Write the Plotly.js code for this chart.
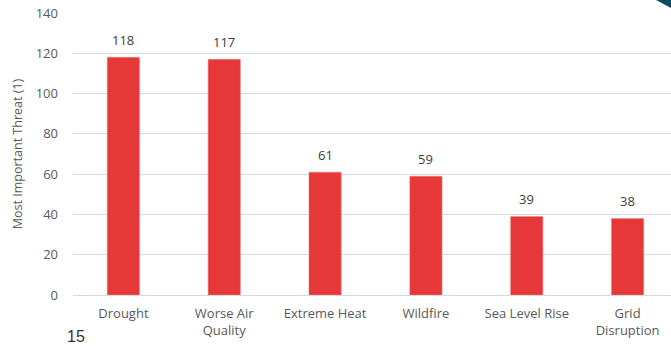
<!DOCTYPE html>
<html>
<head>
<meta charset="utf-8">
<script src="https://cdn.plot.ly/plotly-3.0.1.min.js"></script>
<style>
html,body{margin:0;padding:0;overflow:hidden;background:#fff;width:671px;height:346px;}
#chart{width:678px;height:346px;}
</style>
</head>
<body>
<div id="chart"></div>
<script>
const categories = ["Drought", "Worse Air<br>Quality", "Extreme Heat", "Wildfire", "Sea Level Rise", "Grid<br>Disruption"];
const values = [118, 117, 61, 59, 39, 38];
const yTicks = [0, 20, 40, 60, 80, 100, 120, 140];
const yTitle = "Most Important Threat (1)";
const slideNumber = "15";

const W = 678, H = 346, L = 73, R = 0, T = 13, B = 51;
const pw = W - L - R, ph = H - T - B;
const px = x => (x - L) / pw;
const py = y => (H - B - y) / ph;

const trace = {
  type: "bar",
  x: categories,
  y: values,
  marker: {color: "#e63838", line: {color: "#f08080", width: 0.5}},
  cliponaxis: false,
  hoverinfo: "skip"
};

const valueLabels = categories.map((c, i) => ({
  x: c, y: values[i], xref: "x", yref: "y",
  text: String(values[i]), showarrow: false,
  xanchor: "center", yanchor: "bottom", yshift: 6,
  font: {family: "Open Sans, sans-serif", size: 13, color: "#404040"}
}));

const layout = {
  width: W, height: H,
  margin: {l: L, r: R, t: T, b: B, pad: 0},
  paper_bgcolor: "#ffffff",
  plot_bgcolor: "#ffffff",
  bargap: 0.68,
  showlegend: false,
  font: {family: "Open Sans, sans-serif", color: "#595959", size: 13},
  xaxis: {
    tickfont: {size: 13, color: "#595959"},
    showgrid: false,
    showline: false,
    zeroline: false,
    ticks: "",
    ticklabelstandoff: 9,
    fixedrange: true
  },
  yaxis: {
    range: [0, 140],
    tickvals: yTicks,
    ticktext: yTicks.map(String),
    tickfont: {size: 13, color: "#595959"},
    showgrid: true,
    gridcolor: "#d9d9d9",
    gridwidth: 1,
    zeroline: true,
    zerolinecolor: "#d9d9d9",
    zerolinewidth: 1,
    showline: false,
    ticks: "",
    ticklabelstandoff: 14,
    title: {text: yTitle, font: {size: 12.5, color: "#595959"}, standoff: 10}
  },
  shapes: [
    {type: "rect", xref: "paper", yref: "paper", x0: px(431), x1: px(700), y0: py(11), y1: py(-5), fillcolor: "#ffffff", line: {width: 0}, layer: "above"},
    {type: "path", xref: "paper", yref: "paper",
     path: `M ${px(656)} ${py(0)} L ${px(680)} ${py(0)} L ${px(680)} ${py(12)} L ${px(671)} ${py(8)} Z`,
     fillcolor: "#0f4b63", line: {width: 0}, layer: "above"}
  ],
  annotations: valueLabels.concat([
    {xref: "paper", yref: "paper", x: px(76), y: py(326), xanchor: "center", yanchor: "top",
     text: slideNumber, showarrow: false, font: {family: "Liberation Sans, Arial, sans-serif", size: 16, color: "#333333"}}
  ])
};

Plotly.newPlot("chart", [trace], layout, {displayModeBar: false, staticPlot: true});
</script>
</body>
</html>
